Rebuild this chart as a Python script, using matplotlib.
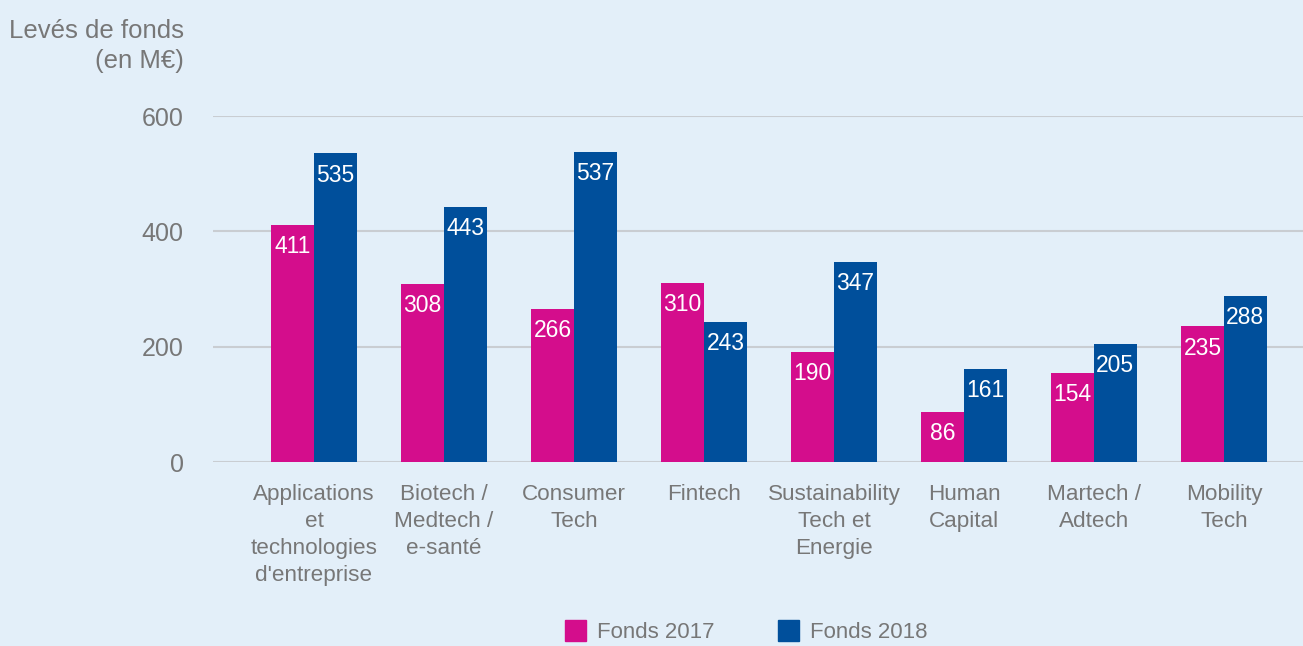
import matplotlib
matplotlib.use("Agg")
import matplotlib.pyplot as plt
import numpy as np
from matplotlib.patches import Rectangle

categories = ["Applications\net\ntechnologies\nd'entreprise", "Biotech /\nMedtech /\ne-santé",
              "Consumer\nTech", "Fintech", "Sustainability\nTech et\nEnergie", "Human\nCapital",
              "Martech /\nAdtech", "Mobility\nTech"]
fonds_2017 = [411, 308, 266, 310, 190, 86, 154, 235]
fonds_2018 = [535, 443, 537, 243, 347, 161, 205, 288]
series_names = ["Fonds 2017", "Fonds 2018"]
yticks = [0, 200, 400, 600]

plt.rcParams['font.family'] = ['Liberation Sans', 'DejaVu Sans']
BG = "#e3eff9"
PINK = "#d40d8c"
BLUE = "#004f9b"
GREY = "#777777"

W, H = 1303, 646
fig = plt.figure(figsize=(W/100, H/100), dpi=100, facecolor=BG)
ax = fig.add_axes([213/W, (H-462)/H, (W-213)/W, 346/H], facecolor=BG)

x = np.arange(len(categories))
bw = 0.33
b1 = ax.bar(x - bw/2, fonds_2017, bw, color=PINK, zorder=3)
b2 = ax.bar(x + bw/2, fonds_2018, bw, color=BLUE, zorder=3)
for bars, vals in ((b1, fonds_2017), (b2, fonds_2018)):
    for r, v in zip(bars, vals):
        ax.annotate(str(v), (r.get_x() + r.get_width()/2, v), xytext=(0, -15.5),
                    textcoords="offset points", ha="center", va="center",
                    color="white", fontsize=16.5, zorder=4)

ax.set_xlim(-0.777, 7.608)
ax.set_ylim(0, 600)
ax.set_yticks(yticks)
ax.set_yticklabels([str(t) for t in yticks])
ax.set_xticks(x)
ax.set_xticklabels(categories, linespacing=1.37)
ax.tick_params(axis="y", length=0, pad=21, labelsize=18, labelcolor=GREY)
ax.tick_params(axis="x", length=0, pad=16, labelsize=16.2, labelcolor=GREY)
ax.grid(axis="y", color="#c9cdd2", linewidth=1.5, zorder=0)
for s in ax.spines.values():
    s.set_visible(False)
for lab in ax.get_yticklabels():
    lab.set_horizontalalignment("right")

fig.text(184/W, 1 - 31/H, "Levés de fonds", ha="right", va="center", color=GREY, fontsize=18.5)
fig.text(184/W, 1 - 61/H, "(en M€)", ha="right", va="center", color=GREY, fontsize=18.5)

# legend
for xs, col, name in ((565, PINK, series_names[0]), (778, BLUE, series_names[1])):
    fig.patches.append(Rectangle((xs/W, 1 - 641/H), 21/W, 21/H, transform=fig.transFigure,
                                 color=col))
    fig.text((xs + 32)/W, 1 - 632/H, name, ha="left", va="center", color=GREY, fontsize=16)

fig.savefig("out.png", dpi=100, facecolor=BG)
